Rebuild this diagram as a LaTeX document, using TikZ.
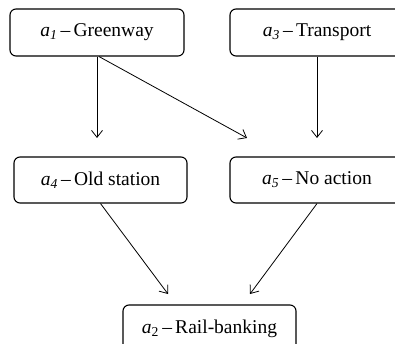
\documentclass[tikz,border=0pt]{standalone}
\usepackage{fontspec}
\setmainfont{Liberation Serif}
\usetikzlibrary{arrows.meta}
\newcommand{\lab}[2]{\textit{a}\textsubscript{#1}\,–\,#2}
\begin{document}
\begin{tikzpicture}[x=1pt,y=-1pt,
  box/.style={draw,line width=1.1pt,rounded corners=6pt,minimum width=174pt,minimum height=47pt,inner sep=0pt,font=\fontsize{19.5}{23}\selectfont},
  arr/.style={line width=0.8pt,-{Straight Barb[length=7pt,width=11pt,line width=0.8pt]}}]
\useasboundingbox (0,0) rectangle (395,344);
\node[box] (a1) at (97,32.5) {\lab{\textit{1}}{Greenway}};
\node[box] (a3) at (317,32.5) {\lab{\textit{3}}{Transport}};
\node[box,minimum width=173pt,minimum height=46pt] (a4) at (100.5,180) {\lab{\textit{4}}{Old station}};
\node[box,minimum height=46pt] (a5) at (317,180) {\lab{\textit{5}}{No action}};
\node[box,minimum width=173pt] (a2) at (209.5,328.5) {\lab{2}{Rail-banking}};
\coordinate (t14) at (97,138);
\coordinate (t15) at (247,138);
\coordinate (t35) at (317,138);
\coordinate (t42) at (168,294);
\coordinate (t52) at (250,294);
\draw[arr] (a1.south) -- (t14);
\draw[arr] ([xshift=2pt]a1.south) -- (t15);
\draw[arr] (a3.south) -- (t35);
\draw[arr] (a4.south) -- (t42);
\draw[arr] (a5.south) -- (t52);
\end{tikzpicture}
\end{document}
